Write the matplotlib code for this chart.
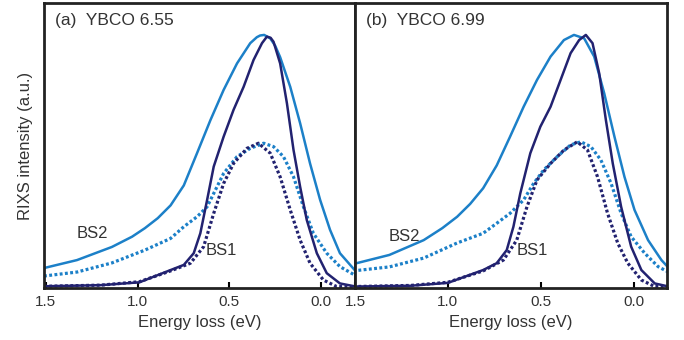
import matplotlib
matplotlib.use("Agg")
import matplotlib.pyplot as plt

plt.rcParams['font.family'] = ['Liberation Sans', 'DejaVu Sans']

LIGHT = '#1c80c8'
DARK = '#222270'

# ---- (a) YBCO 6.55 ----
a_bs2_e = [1.51, 1.33, 1.14, 1.03, 0.96, 0.89, 0.82, 0.748, 0.676, 0.603, 0.531, 0.458, 0.386,
           0.35, 0.332, 0.31, 0.277, 0.25, 0.223, 0.168, 0.114, 0.06, 0.005, -0.049, -0.103,
           -0.19]
a_bs2_y = [0.070, 0.098, 0.144, 0.18, 0.21, 0.245, 0.29, 0.36, 0.473, 0.589, 0.695, 0.788,
           0.859, 0.88, 0.886, 0.888, 0.876, 0.85, 0.81, 0.706, 0.578, 0.437, 0.309, 0.204,
           0.122, 0.058]

a_bs1_e = [1.51, 1.2, 0.99, 0.82, 0.748, 0.694, 0.658, 0.621, 0.585, 0.531, 0.477, 0.422, 0.368,
           0.322, 0.295, 0.275, 0.259, 0.223, 0.186, 0.15, 0.114, 0.078, 0.023, -0.031, -0.103,
           -0.19]
a_bs1_y = [0.006, 0.010, 0.02, 0.063, 0.081, 0.122, 0.192, 0.309, 0.426, 0.531, 0.625, 0.706,
           0.80, 0.859, 0.882, 0.878, 0.864, 0.788, 0.648, 0.484, 0.355, 0.239, 0.122, 0.052,
           0.016, 0.005]

a_bs2d_e = [1.51, 1.33, 1.14, 0.96, 0.82, 0.748, 0.676, 0.621, 0.585, 0.531, 0.458, 0.386, 0.313,
            0.259, 0.205, 0.15, 0.096, 0.042, -0.031, -0.103, -0.19]
a_bs2d_y = [0.042, 0.056, 0.088, 0.133, 0.174, 0.215, 0.25, 0.285, 0.332, 0.402, 0.461, 0.49,
            0.508, 0.496, 0.461, 0.39, 0.285, 0.192, 0.122, 0.075, 0.043]

a_bs1d_e = [1.51, 1.2, 0.99, 0.82, 0.712, 0.64, 0.585, 0.531, 0.477, 0.404, 0.341, 0.277, 0.223,
            0.168, 0.114, 0.06, -0.013, -0.085, -0.19]
a_bs1d_y = [0.006, 0.010, 0.022, 0.06, 0.087, 0.145, 0.262, 0.367, 0.437, 0.49, 0.508, 0.473,
            0.39, 0.274, 0.168, 0.087, 0.028, 0.005, 0.004]

# ---- (b) YBCO 6.99 ----
b_bs2_e = [1.51, 1.315, 1.13, 1.03, 0.95, 0.88, 0.81, 0.737, 0.665, 0.592, 0.52, 0.447, 0.375,
           0.321, 0.266, 0.212, 0.158, 0.103, 0.049, -0.005, -0.078, -0.15, -0.19]
b_bs2_y = [0.084, 0.116, 0.168, 0.21, 0.25, 0.295, 0.35, 0.43, 0.531, 0.636, 0.73, 0.812, 0.87,
           0.888, 0.876, 0.812, 0.683, 0.531, 0.39, 0.274, 0.168, 0.098, 0.07]

b_bs1_e = [1.51, 1.2, 1.0, 0.81, 0.737, 0.683, 0.647, 0.61, 0.556, 0.502, 0.447, 0.393, 0.339,
           0.293, 0.257, 0.221, 0.185, 0.149, 0.112, 0.067, 0.013, -0.042, -0.114, -0.19]
b_bs1_y = [0.005, 0.008, 0.018, 0.063, 0.087, 0.133, 0.215, 0.332, 0.473, 0.566, 0.636, 0.73,
           0.824, 0.87, 0.888, 0.859, 0.753, 0.589, 0.437, 0.285, 0.145, 0.063, 0.016, 0.005]

b_bs2d_e = [1.51, 1.315, 1.13, 0.95, 0.81, 0.737, 0.665, 0.592, 0.538, 0.484, 0.411, 0.339,
            0.284, 0.23, 0.176, 0.121, 0.067, 0.013, -0.06, -0.132, -0.19]
b_bs2d_y = [0.06, 0.074, 0.105, 0.158, 0.192, 0.227, 0.262, 0.309, 0.367, 0.414, 0.461, 0.502,
            0.513, 0.496, 0.449, 0.367, 0.262, 0.18, 0.122, 0.075, 0.055]

b_bs1d_e = [1.51, 1.2, 1.0, 0.81, 0.701, 0.629, 0.574, 0.52, 0.447, 0.375, 0.303, 0.248, 0.194,
            0.14, 0.085, 0.031, -0.042, -0.114, -0.19]
b_bs1d_y = [0.005, 0.009, 0.02, 0.06, 0.098, 0.168, 0.285, 0.379, 0.437, 0.484, 0.513, 0.484,
            0.39, 0.262, 0.157, 0.087, 0.028, 0.005, 0.004]

panels = [
    ("(a)  YBCO 6.55", a_bs2_e, a_bs2_y, a_bs1_e, a_bs1_y, a_bs2d_e, a_bs2d_y, a_bs1d_e, a_bs1d_y,
     (1.51, -0.185), (1.33, 0.19), (0.63, 0.13)),
    ("(b)  YBCO 6.99", b_bs2_e, b_bs2_y, b_bs1_e, b_bs1_y, b_bs2d_e, b_bs2d_y, b_bs1d_e, b_bs1d_y,
     (1.50, -0.18), (1.32, 0.18), (0.63, 0.13)),
]

fig = plt.figure(figsize=(6.84, 3.4), dpi=100)
left0, width = 44 / 684, 311 / 684
bottom, height = 1 - 288 / 340, 285 / 340
axes = [fig.add_axes([left0, bottom, width, height]),
        fig.add_axes([left0 + width, bottom, 312 / 684, height])]

for ax, p in zip(axes, panels):
    title, e2, y2, e1, y1, e2d, y2d, e1d, y1d, xl, bs2pos, bs1pos = p
    dots = dict(lw=2.3, linestyle=(0, (0.9, 0.75)), dash_capstyle='butt')
    ax.plot(e2d, y2d, color=LIGHT, **dots)
    ax.plot(e1d, y1d, color=DARK, **dots)
    ax.plot(e2, y2, color=LIGHT, lw=1.8, solid_joinstyle='round')
    ax.plot(e1, y1, color=DARK, lw=1.8, solid_joinstyle='round')
    ax.set_xlim(*xl)
    ax.set_ylim(0, 1)
    ax.set_yticks([])
    ax.set_xticks([1.5, 1.0, 0.5, 0.0])
    ax.set_xticklabels(['1.5', '1.0', '0.5', '0.0'])
    ax.tick_params(axis='x', direction='in', length=4, width=1.5, labelsize=11,
                   labelcolor='#333333', pad=5)
    for s in ax.spines.values():
        s.set_linewidth(2)
        s.set_color('#222222')
    ax.text(0.035, 0.965, title, transform=ax.transAxes, fontsize=12.5,
            color='#333333', va='top', ha='left')
    ax.text(bs2pos[0], bs2pos[1], 'BS2', fontsize=12, color='#333333', ha='left', va='center')
    ax.text(bs1pos[0], bs1pos[1], 'BS1', fontsize=12, color='#333333', ha='left', va='center')
    ax.set_xlabel('Energy loss (eV)', fontsize=12, color='#333333', labelpad=4)

axes[0].set_ylabel('RIXS intensity (a.u.)', fontsize=12, color='#333333', labelpad=8)

fig.savefig('out.png', dpi=100)
